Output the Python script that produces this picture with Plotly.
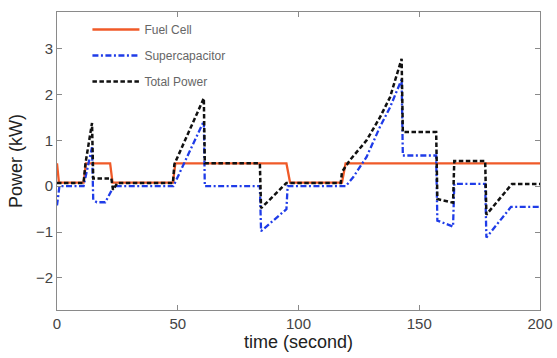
import plotly.graph_objects as go

# ---- data ----
t_fc = [0, 0.8, 11, 12, 22, 23, 48, 49, 95, 96.5, 118, 119.5, 200]
p_fc = [0.5, 0.08, 0.08, 0.5, 0.5, 0.08, 0.08, 0.5, 0.5, 0.08, 0.08, 0.5, 0.5]

t_sc = [0, 1, 11, 14.5, 15, 16.5, 20, 23.5, 48.2, 60.8, 61.2, 84, 84.5, 95, 95.5,
        119.5, 122.7, 128.2, 133.7, 137.9, 142.7, 143.2, 157, 157.5, 164, 164.5,
        177.3, 177.8, 188, 200]
p_sc = [-0.42, 0.0, 0.0, 0.85, -0.3, -0.35, -0.35, 0.0, 0.0, 1.42, 0.0, 0.0, -0.98, -0.5, 0.0,
        0.0, 0.2, 0.64, 1.29, 1.72, 2.33, 0.67, 0.67, -0.75, -0.88, 0.05,
        0.05, -1.12, -0.45, -0.45]

t_tot = [0, 11, 11.8, 14.5, 15, 22.5, 23.2, 25, 48, 48.6, 60.8, 61.2, 84, 84.5, 95,
         117.5, 118, 121.3, 128.2, 133.7, 137.9, 142.7, 143.2, 157, 157.5, 164, 164.5,
         177.3, 177.8, 188.4, 200]
p_tot = [0.07, 0.07, 0.5, 1.38, 0.17, 0.17, -0.08, 0.07, 0.07, 0.48, 1.92, 0.5, 0.5, -0.48, 0.07,
         0.07, 0.31, 0.57, 1.0, 1.5, 1.94, 2.78, 1.18, 1.18, -0.28, -0.36, 0.55,
         0.55, -0.62, 0.05, 0.05]

x_ticks = [0, 50, 100, 150, 200]
y_ticks = [-2, -1, 0, 1, 2, 3]

fig = go.Figure()
fig.add_trace(go.Scatter(x=t_fc, y=p_fc, mode="lines", name="Fuel Cell", legendgroup="a",
                         line=dict(color="#f05a28", width=2.3)))
fig.add_trace(go.Scatter(x=t_sc, y=p_sc, mode="lines", name="Supercapacitor", legendgroup="b",
                         line=dict(color="#1f3ce8", width=2.3, dash="6px,2.5px,2px,2.5px")))
fig.add_trace(go.Scatter(x=t_tot, y=p_tot, mode="lines", name="Total Power", legendgroup="c",
                         line=dict(color="#111111", width=2.5, dash="4.5px,2.5px")))

axis_common = dict(showline=True, mirror="ticks", linecolor="#8a8a8a", linewidth=1,
                   ticks="inside", ticklen=5, tickcolor="#8a8a8a", showgrid=False,
                   zeroline=False, automargin=False,
                   tickfont=dict(family="Liberation Sans, Arial", size=15, color="#444"))

fig.update_layout(
    width=557, height=358,
    margin=dict(l=57, r=17, t=12, b=48),
    paper_bgcolor="white", plot_bgcolor="white",
    font=dict(family="Liberation Sans, Arial", color="#222"),
    xaxis=dict(range=[0, 200], tickvals=x_ticks,
               title=dict(text="time (second)", font=dict(size=18, color="#222"), standoff=4),
               **axis_common),
    yaxis=dict(range=[-2.7, 3.8], tickvals=y_ticks,
               title=dict(text="Power (kW)", font=dict(size=18, color="#222"), standoff=8),
               **axis_common),
    legend=dict(x=0.063, y=0.99, xanchor="left", yanchor="top", bgcolor="rgba(0,0,0,0)",
                font=dict(size=12, color="#666"), tracegroupgap=7, traceorder="grouped",
                itemwidth=47),
    showlegend=True,
)

fig.write_html("out.html")
